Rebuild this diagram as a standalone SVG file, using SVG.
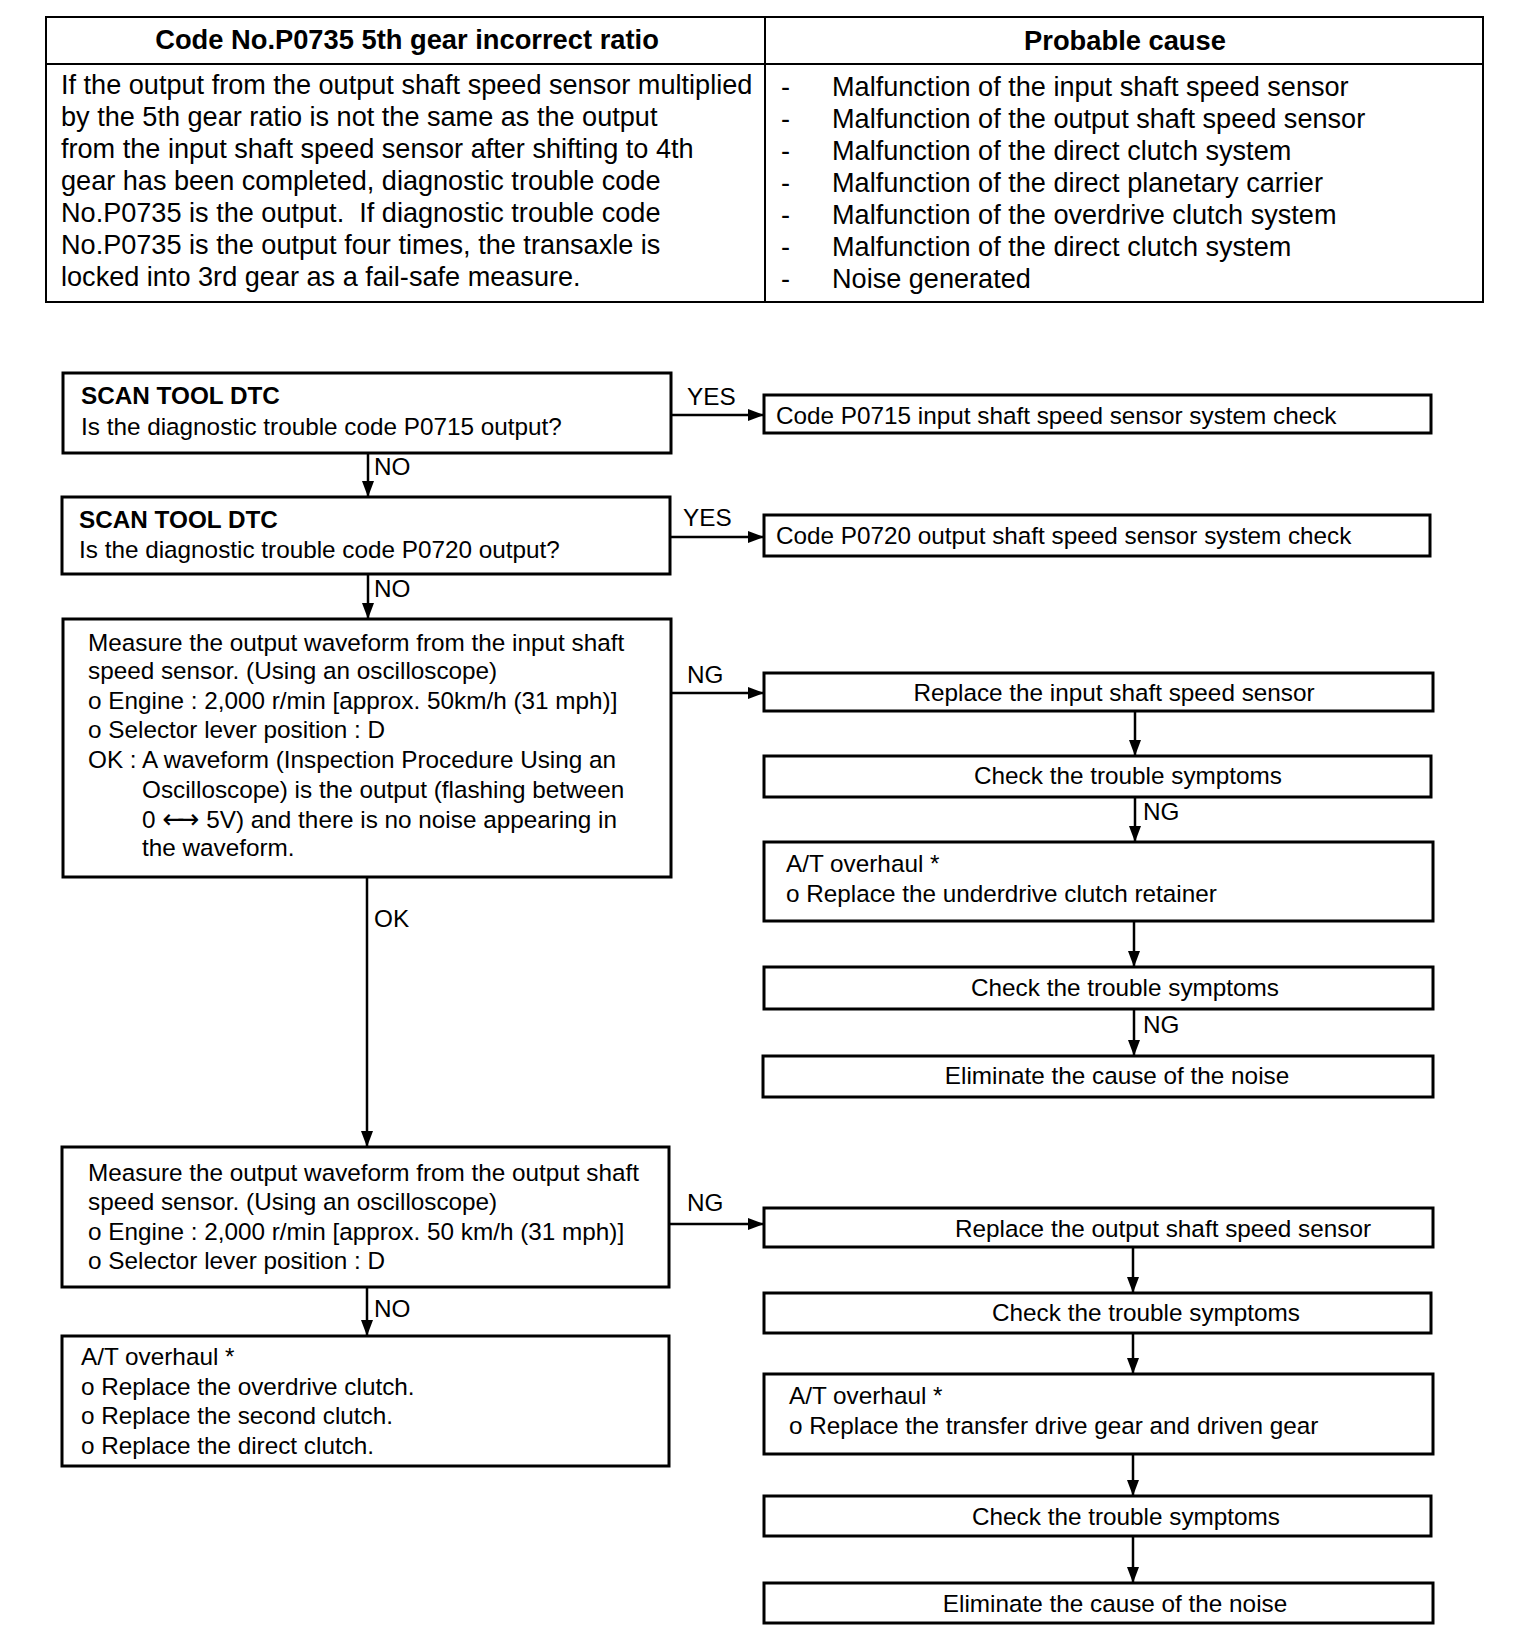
<svg xmlns="http://www.w3.org/2000/svg" width="1536" height="1652" viewBox="0 0 1536 1652">
<style>
  text { font-family: "Liberation Sans", Arial, sans-serif; fill: #000; }
  .t { font-size: 27.1px; }
  .tb { font-size: 27.3px; font-weight: bold; }
  .f { font-size: 24.3px; }
  .fb { font-size: 24.3px; font-weight: bold; }
  .box { fill: #fff; stroke: #000; stroke-width: 3; }
  .tbl { fill: none; stroke: #000; stroke-width: 2; }
  .conn line { stroke: #000; stroke-width: 2.5; }
  .c { text-anchor: middle; }
  .ar { font-family: "DejaVu Sans", sans-serif; font-size: 27px; }
</style>
<defs>
  <marker id="arr" markerUnits="userSpaceOnUse" markerWidth="16" markerHeight="12" viewBox="0 0 16 12" refX="16" refY="6" orient="auto">
    <path d="M0,0 L16,6 L0,12 z" fill="#000"/>
  </marker>
</defs>
<rect width="1536" height="1652" fill="#fff"/>

<g id="table">
  <rect class="tbl" x="46" y="17" width="1437" height="285"/>
  <line class="tbl" x1="46" y1="64" x2="1483" y2="64"/>
  <line class="tbl" x1="765" y1="17" x2="765" y2="302"/>
  <text class="tb c" x="407" y="49">Code No.P0735 5th gear incorrect ratio</text>
  <text class="tb c" x="1125" y="50">Probable cause</text>
  <text class="t" x="61" y="94">If the output from the output shaft speed sensor multiplied</text>
  <text class="t" x="61" y="126">by the 5th gear ratio is not the same as the output</text>
  <text class="t" x="61" y="158">from the input shaft speed sensor after shifting to 4th</text>
  <text class="t" x="61" y="190">gear has been completed, diagnostic trouble code</text>
  <text class="t" x="61" y="222">No.P0735 is the output.&#160; If diagnostic trouble code</text>
  <text class="t" x="61" y="254">No.P0735 is the output four times, the transaxle is</text>
  <text class="t" x="61" y="286">locked into 3rd gear as a fail-safe measure.</text>
  <text class="t" x="781" y="96">-</text>
  <text class="t" x="781" y="128">-</text>
  <text class="t" x="781" y="160">-</text>
  <text class="t" x="781" y="192">-</text>
  <text class="t" x="781" y="224">-</text>
  <text class="t" x="781" y="256">-</text>
  <text class="t" x="781" y="288">-</text>
  <text class="t" x="832" y="96">Malfunction of the input shaft speed sensor</text>
  <text class="t" x="832" y="128">Malfunction of the output shaft speed sensor</text>
  <text class="t" x="832" y="160">Malfunction of the direct clutch system</text>
  <text class="t" x="832" y="192">Malfunction of the direct planetary carrier</text>
  <text class="t" x="832" y="224">Malfunction of the overdrive clutch system</text>
  <text class="t" x="832" y="256">Malfunction of the direct clutch system</text>
  <text class="t" x="832" y="288">Noise generated</text>
</g>

<g id="connectors" class="conn">
  <line x1="671" y1="415" x2="764" y2="415" marker-end="url(#arr)"/>
  <line x1="368" y1="453" x2="368" y2="497" marker-end="url(#arr)"/>
  <line x1="670" y1="537" x2="764" y2="537" marker-end="url(#arr)"/>
  <line x1="368" y1="574" x2="368" y2="619" marker-end="url(#arr)"/>
  <line x1="671" y1="693" x2="764" y2="693" marker-end="url(#arr)"/>
  <line x1="1135" y1="711" x2="1135" y2="756" marker-end="url(#arr)"/>
  <line x1="1135" y1="797" x2="1135" y2="842" marker-end="url(#arr)"/>
  <line x1="1134" y1="921" x2="1134" y2="967" marker-end="url(#arr)"/>
  <line x1="1134" y1="1009" x2="1134" y2="1056" marker-end="url(#arr)"/>
  <line x1="367" y1="877" x2="367" y2="1147" marker-end="url(#arr)"/>
  <line x1="669" y1="1224" x2="764" y2="1224" marker-end="url(#arr)"/>
  <line x1="1133" y1="1247" x2="1133" y2="1293" marker-end="url(#arr)"/>
  <line x1="1133" y1="1333" x2="1133" y2="1374" marker-end="url(#arr)"/>
  <line x1="1133" y1="1454" x2="1133" y2="1496" marker-end="url(#arr)"/>
  <line x1="1133" y1="1536" x2="1133" y2="1583" marker-end="url(#arr)"/>
  <line x1="367" y1="1287" x2="367" y2="1336" marker-end="url(#arr)"/>
  <text class="f" x="687" y="405">YES</text>
  <text class="f" x="374" y="475">NO</text>
  <text class="f" x="683" y="526">YES</text>
  <text class="f" x="374" y="597">NO</text>
  <text class="f" x="687" y="683">NG</text>
  <text class="f" x="1143" y="820">NG</text>
  <text class="f" x="1143" y="1033">NG</text>
  <text class="f" x="374" y="927">OK</text>
  <text class="f" x="687" y="1211">NG</text>
  <text class="f" x="374" y="1317">NO</text>
</g>

<g id="n1">
  <rect class="box" x="63" y="373" width="608" height="80"/>
  <text class="fb" x="81" y="404">SCAN TOOL DTC</text>
  <text class="f" x="81" y="435">Is the diagnostic trouble code P0715 output?</text>
</g>
<g id="r1">
  <rect class="box" x="764" y="395" width="667" height="38"/>
  <text class="f" x="776" y="424">Code P0715 input shaft speed sensor system check</text>
</g>
<g id="n2">
  <rect class="box" x="62" y="497" width="608" height="77"/>
  <text class="fb" x="79" y="528">SCAN TOOL DTC</text>
  <text class="f" x="79" y="558">Is the diagnostic trouble code P0720 output?</text>
</g>
<g id="r2">
  <rect class="box" x="764" y="515" width="666" height="41"/>
  <text class="f" x="776" y="544">Code P0720 output shaft speed sensor system check</text>
</g>
<g id="n3">
  <rect class="box" x="63" y="619" width="608" height="258"/>
  <text class="f" x="88" y="651">Measure the output waveform from the input shaft</text>
  <text class="f" x="88" y="679">speed sensor. (Using an oscilloscope)</text>
  <text class="f" x="88" y="709">o Engine : 2,000 r/min [approx. 50km/h (31 mph)]</text>
  <text class="f" x="88" y="738">o Selector lever position : D</text>
  <text class="f" x="88" y="768">OK : A waveform (Inspection Procedure Using an</text>
  <text class="f" x="142" y="798">Oscilloscope) is the output (flashing between</text>
  <text class="f" x="142" y="828">0 <tspan class="ar" letter-spacing="-8">←→</tspan><tspan dx="8"> 5V) and there is no noise appearing in</tspan></text>
  <text class="f" x="142" y="856">the waveform.</text>
</g>
<g id="r3">
  <rect class="box" x="764" y="673" width="669" height="38"/>
  <text class="f c" x="1114" y="701">Replace the input shaft speed sensor</text>
</g>
<g id="r4">
  <rect class="box" x="764" y="756" width="667" height="41"/>
  <text class="f c" x="1128" y="784">Check the trouble symptoms</text>
</g>
<g id="r5">
  <rect class="box" x="764" y="842" width="669" height="79"/>
  <text class="f" x="786" y="872">A/T overhaul *</text>
  <text class="f" x="786" y="902">o Replace the underdrive clutch retainer</text>
</g>
<g id="r6">
  <rect class="box" x="764" y="967" width="669" height="42"/>
  <text class="f c" x="1125" y="996">Check the trouble symptoms</text>
</g>
<g id="r7">
  <rect class="box" x="763" y="1056" width="670" height="41"/>
  <text class="f c" x="1117" y="1084">Eliminate the cause of the noise</text>
</g>
<g id="n4">
  <rect class="box" x="62" y="1147" width="607" height="140"/>
  <text class="f" x="88" y="1181">Measure the output waveform from the output shaft</text>
  <text class="f" x="88" y="1210">speed sensor. (Using an oscilloscope)</text>
  <text class="f" x="88" y="1240">o Engine : 2,000 r/min [approx. 50 km/h (31 mph)]</text>
  <text class="f" x="88" y="1269">o Selector lever position : D</text>
</g>
<g id="r8">
  <rect class="box" x="764" y="1208" width="669" height="39"/>
  <text class="f c" x="1163" y="1237">Replace the output shaft speed sensor</text>
</g>
<g id="r9">
  <rect class="box" x="764" y="1293" width="667" height="40"/>
  <text class="f c" x="1146" y="1321">Check the trouble symptoms</text>
</g>
<g id="r10">
  <rect class="box" x="764" y="1374" width="669" height="80"/>
  <text class="f" x="789" y="1404">A/T overhaul *</text>
  <text class="f" x="789" y="1434">o Replace the transfer drive gear and driven gear</text>
</g>
<g id="r11">
  <rect class="box" x="764" y="1496" width="667" height="40"/>
  <text class="f c" x="1126" y="1525">Check the trouble symptoms</text>
</g>
<g id="r12">
  <rect class="box" x="764" y="1583" width="669" height="40"/>
  <text class="f c" x="1115" y="1612">Eliminate the cause of the noise</text>
</g>
<g id="n5">
  <rect class="box" x="62" y="1336" width="607" height="130"/>
  <text class="f" x="81" y="1365">A/T overhaul *</text>
  <text class="f" x="81" y="1395">o Replace the overdrive clutch.</text>
  <text class="f" x="81" y="1424">o Replace the second clutch.</text>
  <text class="f" x="81" y="1454">o Replace the direct clutch.</text>
</g>
</svg>
